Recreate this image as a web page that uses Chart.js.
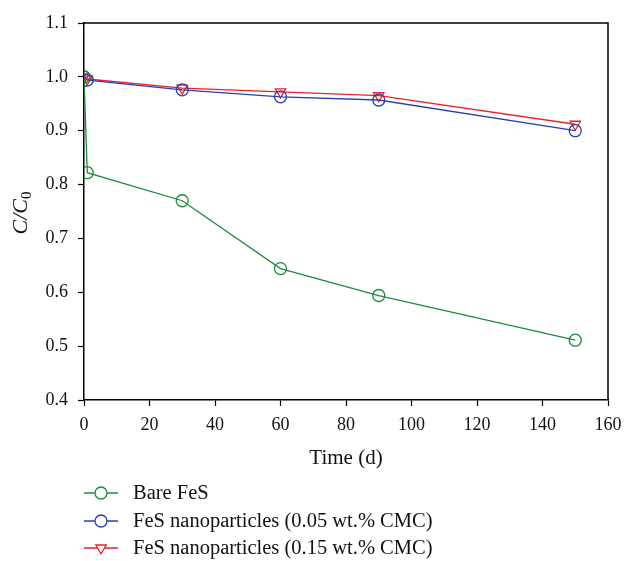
<!DOCTYPE html>
<html><head><meta charset="utf-8">
<script src="https://cdn.jsdelivr.net/npm/chart.js@4/dist/chart.umd.min.js"></script>
<style>html,body{margin:0;padding:0;background:#fff;}#wrap{width:626px;height:561px;position:relative;}</style>
</head><body><div id="wrap"><canvas id="c" width="626" height="561"></canvas></div>
<script>
const days = [0, 1, 30, 60, 90, 150];
const bareFeS = [1.0, 0.822, 0.770, 0.644, 0.594, 0.511];
const cmc005 = [1.0, 0.994, 0.976, 0.963, 0.957, 0.900];
const cmc015 = [1.0, 0.996, 0.979, 0.972, 0.965, 0.912];
const seriesNames = ['Bare FeS', 'FeS nanoparticles (0.05 wt.% CMC)', 'FeS nanoparticles (0.15 wt.% CMC)'];
const xTicks = [0, 20, 40, 60, 80, 100, 120, 140, 160];
const yTicks = [0.4, 0.5, 0.6, 0.7, 0.8, 0.9, 1.0, 1.1];

const FONT = "'Liberation Serif', 'DejaVu Serif', serif";
const colors = ['#1f8a3e', '#2b3fae', '#e8222c'];
const styles = ['circle', 'circle', 'triangle'];
const rots = [0, 0, 180];
const vals = [bareFeS, cmc005, cmc015];

const datasets = vals.map((v, i) => ({
  label: seriesNames[i],
  data: days.map((d, k) => ({x: d, y: v[k]})),
  borderColor: colors[i],
  backgroundColor: 'rgba(0,0,0,0)',
  borderWidth: 1.3,
  pointStyle: styles[i],
  rotation: rots[i],
  pointRadius: 6,
  pointBorderWidth: 1.3,
  pointBackgroundColor: 'rgba(0,0,0,0)',
  tension: 0
}));

const extras = {
  id: 'extras',
  afterDraw(chart) {
    const ctx = chart.ctx, a = chart.chartArea;
    ctx.save();
    ctx.strokeStyle = '#000'; ctx.lineWidth = 1.5;
    ctx.beginPath();
    ctx.moveTo(a.left, a.top); ctx.lineTo(a.right, a.top); ctx.lineTo(a.right, a.bottom);
    ctx.stroke();
    ctx.fillStyle = '#111';
    ctx.translate(21, 213);
    ctx.rotate(-Math.PI / 2);
    ctx.font = "italic 22px " + FONT;
    ctx.textBaseline = 'middle';
    const t1 = 'C/C';
    const w1 = ctx.measureText(t1).width;
    ctx.font = "15px " + FONT;
    const w2 = ctx.measureText('0').width;
    const start = -(w1 + w2) / 2;
    ctx.font = "italic 22px " + FONT;
    ctx.textAlign = 'left';
    ctx.fillText(t1, start, 0);
    ctx.font = "15px " + FONT;
    ctx.fillText('0', start + w1, 6);
    ctx.restore();
    ctx.save();
    const ys = [493, 521, 548];
    ctx.font = "20.5px " + FONT;
    ctx.textBaseline = 'middle';
    ctx.textAlign = 'left';
    ys.forEach((y, i) => {
      ctx.strokeStyle = colors[i]; ctx.lineWidth = 1.3;
      ctx.beginPath(); ctx.moveTo(84, y); ctx.lineTo(118, y); ctx.stroke();
      ctx.fillStyle = '#fff';
      Chart.helpers.drawPoint(ctx, {pointStyle: styles[i], rotation: rots[i], radius: 6, borderWidth: 1.3}, 101, y);
      ctx.fillStyle = '#111';
      ctx.fillText(seriesNames[i], 133, y + 1);
    });
    ctx.restore();
  }
};

new Chart(document.getElementById('c'), {
  type: 'line',
  data: {datasets},
  options: {
    responsive: false,
    animation: false,
    layout: {padding: {top: 23, right: 18, bottom: 86, left: 0}},
    plugins: {legend: {display: false}, tooltip: {enabled: false}},
    scales: {
      x: {
        type: 'linear', min: 0, max: 160,
        afterBuildTicks: s => { s.ticks = xTicks.map(v => ({value: v})); },
        afterFit: s => { s.height = 75; s.paddingRight = 0; s.paddingLeft = 0; },
        grid: {drawOnChartArea: false, drawTicks: true, tickLength: 6, color: '#000', tickWidth: 1.2},
        border: {display: true, color: '#000', width: 1.5},
        ticks: {color: '#111', font: {family: FONT, size: 18}, padding: 8, maxRotation: 0},
        title: {display: true, text: 'Time (d)', color: '#111', font: {family: FONT, size: 21}, padding: {top: 6, bottom: 4}}
      },
      y: {
        type: 'linear', min: 0.4, max: 1.1,
        afterBuildTicks: s => { s.ticks = yTicks.map(v => ({value: v})); },
        afterFit: s => { s.width = 84; s.paddingTop = 0; s.paddingBottom = 0; },
        grid: {drawOnChartArea: false, drawTicks: true, tickLength: 6, color: '#000', tickWidth: 1.2},
        border: {display: true, color: '#000', width: 1.5},
        ticks: {color: '#111', font: {family: FONT, size: 18}, padding: 10, callback: v => Number(v).toFixed(1)}
      }
    }
  },
  plugins: [extras]
});
</script></body></html>
